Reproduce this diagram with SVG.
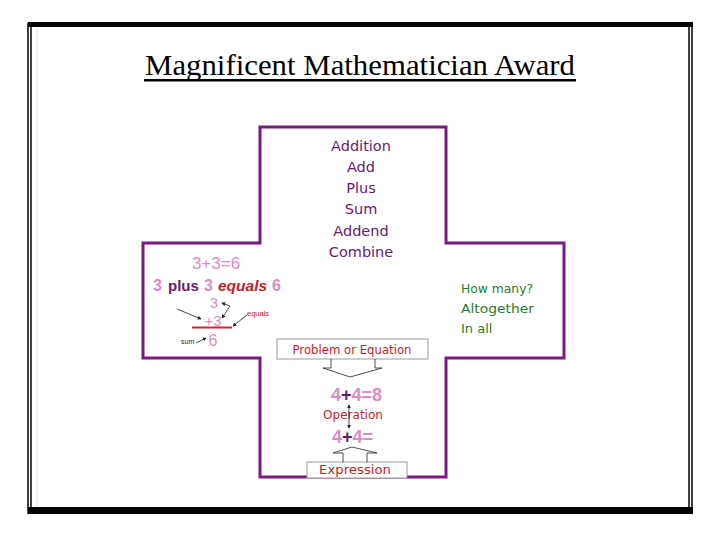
<svg xmlns="http://www.w3.org/2000/svg" width="720" height="540" viewBox="0 0 720 540">
<defs>
<style>
.t{font-family:"DejaVu Sans","Noto Sans",sans-serif;}
.l{font-family:"Liberation Sans",Arial,sans-serif;}
.pur{fill:#6a1a6e;}
.pink{fill:#dc8cc4;}
.red{fill:#c41e2a;}
.grn{fill:#2b7a2b;}
.box{fill:#fff;stroke:#999;stroke-width:1;}
.thin{fill:none;stroke:#222;stroke-width:0.8;}
.big{font-size:18px;font-weight:bold;}
</style>
<marker id="ah" viewBox="0 0 6 6" refX="5" refY="3" markerWidth="5" markerHeight="5" orient="auto"><path d="M0,0 L6,3 L0,6 Z" fill="#222"/></marker>
<marker id="ahs" viewBox="0 0 6 6" refX="1" refY="3" markerWidth="5" markerHeight="5" orient="auto"><path d="M6,0 L0,3 L6,6 Z" fill="#222"/></marker>
</defs>
<rect width="720" height="540" fill="#fff"/>
<g id="frame">
<line x1="28" y1="23" x2="28" y2="514" stroke="#000" stroke-width="1.5"/>
<line x1="31" y1="25" x2="31" y2="510" stroke="#000" stroke-width="1.5"/>
<line x1="692" y1="23" x2="692" y2="514" stroke="#000" stroke-width="1.5"/>
<line x1="689" y1="25" x2="689" y2="510" stroke="#000" stroke-width="1.5"/>
<rect x="28" y="22" width="665" height="5" fill="#000"/>
<rect x="28" y="507" width="665" height="7" fill="#000"/>
<line x1="37" y1="28" x2="37" y2="506" stroke="#ddd" stroke-width="0.8"/>
</g>
<g id="title">
<text x="360" y="75" text-anchor="middle" font-family="Liberation Serif,serif" font-size="30" fill="#000" textLength="430" lengthAdjust="spacingAndGlyphs">Magnificent Mathematician Award</text>
<rect x="144" y="79" width="432" height="2.5" fill="#000"/>
</g>
<g id="cross">
<path d="M260,127 H446 V243 H564 V358 H446 V477 H260 V358 H143 V243 H260 Z" fill="#fff" stroke="#7a1a80" stroke-width="3"/>
</g>
<g id="top-words" class="t pur" font-size="14.5" text-anchor="middle">
<text x="361" y="151">Addition</text>
<text x="361" y="172">Add</text>
<text x="361" y="193">Plus</text>
<text x="361" y="214">Sum</text>
<text x="361" y="236">Addend</text>
<text x="361" y="257">Combine</text>
</g>
<g id="left-example" class="l">
<text x="216" y="269" text-anchor="middle" font-size="17" class="pink">3+3=6</text>
<text x="153" y="291" font-size="16" font-weight="bold" class="pink">3</text>
<text x="168" y="291" font-size="15" font-weight="bold" class="pur">plus</text>
<text x="204" y="291" font-size="16" font-weight="bold" class="pink">3</text>
<text x="218" y="291" font-size="15.5" font-weight="bold" font-style="italic" class="red">equals</text>
<text x="272" y="291" font-size="16" font-weight="bold" class="pink">6</text>
<text x="214" y="308" text-anchor="middle" font-size="15" class="pink">3</text>
<text x="213" y="326" text-anchor="middle" font-size="15" class="pink">+3</text>
<text x="213" y="346" text-anchor="middle" font-size="16" class="pink">6</text>
<line x1="192" y1="327.5" x2="232" y2="327.5" stroke="#d8242c" stroke-width="2"/>
<text x="247" y="316" font-size="7.5" class="red">equals</text>
<text x="181" y="344" font-size="7" fill="#222">sum</text>
</g>
<g id="right-words" class="t grn" font-size="13">
<text x="461" y="293" textLength="72" lengthAdjust="spacingAndGlyphs">How many?</text>
<text x="461" y="313" textLength="73" lengthAdjust="spacingAndGlyphs">Altogether</text>
<text x="461" y="333">In all</text>
</g>
<g id="problem-box">
<rect class="box" x="277" y="339" width="151" height="20"/>
<text x="352" y="354" text-anchor="middle" class="t red" font-size="12" textLength="119" lengthAdjust="spacingAndGlyphs">Problem or Equation</text>
</g>
<g id="middle-example" class="l">
<text x="331" y="401" class="big pink">4</text>
<text x="341" y="401" class="big pur">+</text>
<text x="351.5" y="401" class="big pink">4=8</text>
<text x="353" y="419" text-anchor="middle" font-size="12.5" class="red t" textLength="60" lengthAdjust="spacingAndGlyphs">Operation</text>
<text x="332" y="443" class="big pink">4</text>
<text x="342" y="443" class="big pur">+</text>
<text x="352.5" y="443" class="big pink">4=</text>
</g>
<g id="expression-box">
<rect class="box" x="307" y="462" width="100" height="16"/>
<text x="355" y="474" text-anchor="middle" class="t red" font-size="13" textLength="72" lengthAdjust="spacingAndGlyphs">Expression</text>
</g>
<g id="connectors">
<path class="thin" stroke="#555" d="M331,359 V368 H323 L350,377 L382,368 H375 V359"/>
<path class="thin" stroke="#555" d="M343,462 V453 H333 L352,447 L377,453 H367 V462"/>
<line class="thin" x1="349" y1="405" x2="349" y2="428" marker-start="url(#ahs)" marker-end="url(#ah)"/>
<line class="thin" x1="177" y1="309" x2="201" y2="319" marker-end="url(#ah)"/>
<line class="thin" x1="230" y1="306" x2="222" y2="303" marker-end="url(#ah)"/>
<line class="thin" x1="230" y1="306" x2="222" y2="318" marker-end="url(#ah)"/>
<line class="thin" x1="247" y1="315" x2="233" y2="326" marker-end="url(#ah)"/>
<line class="thin" x1="196" y1="343" x2="206" y2="338" marker-end="url(#ah)"/>
</g>
</svg>
